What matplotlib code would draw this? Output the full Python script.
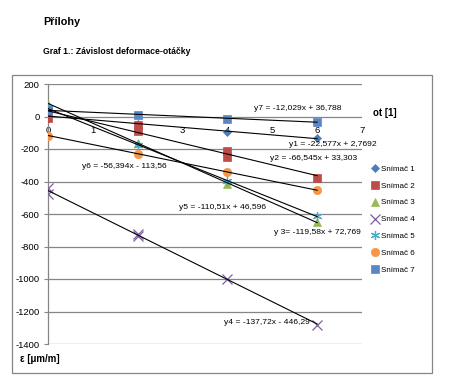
import numpy as np
import matplotlib
matplotlib.use("Agg")
import matplotlib.pyplot as plt
from matplotlib.patches import Rectangle

plt.rcParams['font.family'] = ['Liberation Sans', 'DejaVu Sans']
plt.rcParams['axes.unicode_minus'] = False

# data (otacky vs deformace)
x1 = [0, 2, 4, 6]
y1 = [5, -45, -95, -133]
x2 = [0, 0, 2, 2, 4, 4, 6]
y2 = [45, -10, -55, -90, -215, -250, -380]
x3 = [0, 2, 4, 6]
y3 = [80, -160, -415, -650]
x4 = [0, 0, 2, 2, 4, 6]
y4 = [-440, -475, -720, -735, -1000, -1280]
x5 = [0, 2, 4, 6]
y5 = [50, -175, -395, -615]
x6 = [0, 2, 4, 6]
y6 = [-118, -228, -340, -455]
x7 = [0, 2, 4, 6]
y7 = [40, 12, -15, -32]

labels = ["Snímač 1", "Snímač 2", "Snímač 3", "Snímač 4",
          "Snímač 5", "Snímač 6", "Snímač 7"]
equations = [
    "y1 = -22,577x + 2,7692",
    "y2 = -66,545x + 33,303",
    "y 3= -119,58x + 72,769",
    "y4 = -137,72x - 446,29",
    "y5 = -110,51x + 46,596",
    "y6 = -56,394x - 113,56",
    "y7 = -12,029x + 36,788",
]
eq_pos = [(6.34, -172), (5.92, -258), (6.0, -712), (4.89, -1270),
          (3.9, -558), (1.70, -306), (5.56, 49)]

series = [(x1, y1), (x2, y2), (x3, y3), (x4, y4), (x5, y5), (x6, y6), (x7, y7)]
colors = ["#4A7EBB", "#BE4B48", "#98B954", "#7D60A0", "#4BACC6", "#F79646", "#5B86C5"]
markers = ["D", "s", "^", "x", (6, 2, 0), "o", "s"]
msizes = [4.5, 6, 6, 7, 6.5, 6, 5.5]

fig = plt.figure(figsize=(4.56, 3.91), dpi=100)
fig.patches.append(Rectangle((12 / 456, 1 - 373 / 391), 420 / 456, 298 / 391,
                             transform=fig.transFigure, fill=False,
                             edgecolor="#868686", linewidth=0.9))
ax = fig.add_axes([48 / 456, 1 - 344 / 391, 314 / 456, 260 / 391])

handles = []
for (xs, ys), c, m, ms, lab in zip(series, colors, markers, msizes, labels):
    mew = 0.9 if m in ("x", (6, 2, 0)) else 0.5
    h, = ax.plot(xs, ys, linestyle="none", marker=m, markersize=ms, color=c,
                 markeredgecolor=c, markeredgewidth=mew, label=lab, zorder=3)
    handles.append(h)
    k, q = np.polyfit(xs, ys, 1)
    xx = np.array([0, 6])
    ax.plot(xx, k * xx + q, color="black", linewidth=0.8, zorder=4)

for eq, (ex, ey) in zip(equations, eq_pos):
    ax.text(ex, ey, eq, fontsize=6.1, ha="center", va="center", zorder=5)

ax.set_xlim(0, 7)
ax.set_ylim(-1400, 200)
ax.set_xticks(range(0, 8))
ax.set_yticks(range(-1400, 201, 200))
ax.yaxis.grid(True, color="#868686", linewidth=0.9)
ax.set_axisbelow(True)
for s in ("top", "right", "bottom"):
    ax.spines[s].set_visible(False)
ax.spines["left"].set_color("#868686")
ax.spines["left"].set_linewidth(0.9)
ax.tick_params(axis="y", length=3, color="#868686", labelsize=6.8, pad=3)
ax.tick_params(axis="x", length=0, labelsize=6.8, pad=7)
# x tick labels sit just under the zero line
ax.xaxis.set_ticks_position("bottom")
ax.spines["bottom"].set_position(("data", 0))

fig.text(373 / 456, 1 - 113 / 391, "ot [1]", fontsize=7, fontweight="bold", va="center")
fig.text(20 / 456, 1 - 359 / 391, "ε [μm/m]", fontsize=7, fontweight="bold", va="center")
fig.text(43 / 456, 1 - 22 / 391, "Přílohy", fontsize=7.8, fontweight="bold", va="center")
fig.text(43 / 456, 1 - 52 / 391, "Graf 1.: Závislost deformace-otáčky", fontsize=6.2,
         fontweight="bold", va="center")

fig.legend(handles=handles, loc="upper left", bbox_to_anchor=(372 / 456, 1 - 165 / 391),
           frameon=False, fontsize=5.8, labelspacing=1.15, handlelength=0.8,
           handletextpad=0.3, borderaxespad=0, borderpad=0)

fig.savefig("out.png", dpi=100)
